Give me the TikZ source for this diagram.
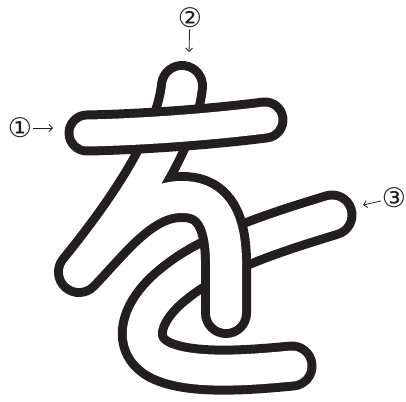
\documentclass[tikz,border=0pt]{standalone}
\usepackage{fontspec}
\usetikzlibrary{arrows.meta}
\newfontfamily\circfont{DejaVu Sans}
\definecolor{inkblack}{HTML}{231F20}

\begin{document}
\begin{tikzpicture}[x=1pt,y=-1pt,
  hollow/.style={draw=white,line width=#1-9pt,line cap=round,line join=round,
    preaction={draw=inkblack,line width=#1+9pt,line cap=round,line join=round}},
  pointer/.style={draw=inkblack,line width=0.8pt,-{Straight Barb[length=3.5pt,width=7pt]}},
  num/.style={font=\circfont\fontsize{27}{27}\selectfont,text=inkblack,inner sep=0.5pt}]

  \useasboundingbox (0,0) rectangle (406,401);

  % ---- Stroke 3: long sweep (lowest layer) ----
  \draw[hollow=40pt] (332,215) .. controls (290,228) and (215,250) .. (175,283)
    .. controls (140,310) and (130,345) .. (160,360)
    .. controls (190,375) and (250,370) .. (292,366);

  % ---- Stroke 2: diagonal, turn back, hook down ----
  \draw[hollow=41pt] (182,86) .. controls (178,125) and (150,185) .. (79,272)
    .. controls (110,240) and (140,198) .. (180,197)
    .. controls (210,196) and (225,215) .. (226,260) -- (226,313);

  % ---- Stroke 1: horizontal bar (top layer) ----
  \draw[hollow=36pt] (87,133) .. controls (140,132) and (210,127) .. (265,120);

  % ---- Stroke order labels ----
  \node[num] (n1) at (20,128) {①};
  \node[num] (n2) at (190,18)  {②};
  \node[num] (n3) at (394,198) {③};
  \coordinate (t1) at (53,128);
  \coordinate (t2) at (189,52);
  \coordinate (t3) at (363,205);
  \draw[pointer] (n1) -- (t1);
  \draw[pointer] (n2) -- (t2);
  \draw[pointer] (n3) -- (t3);

\end{tikzpicture}
\end{document}
